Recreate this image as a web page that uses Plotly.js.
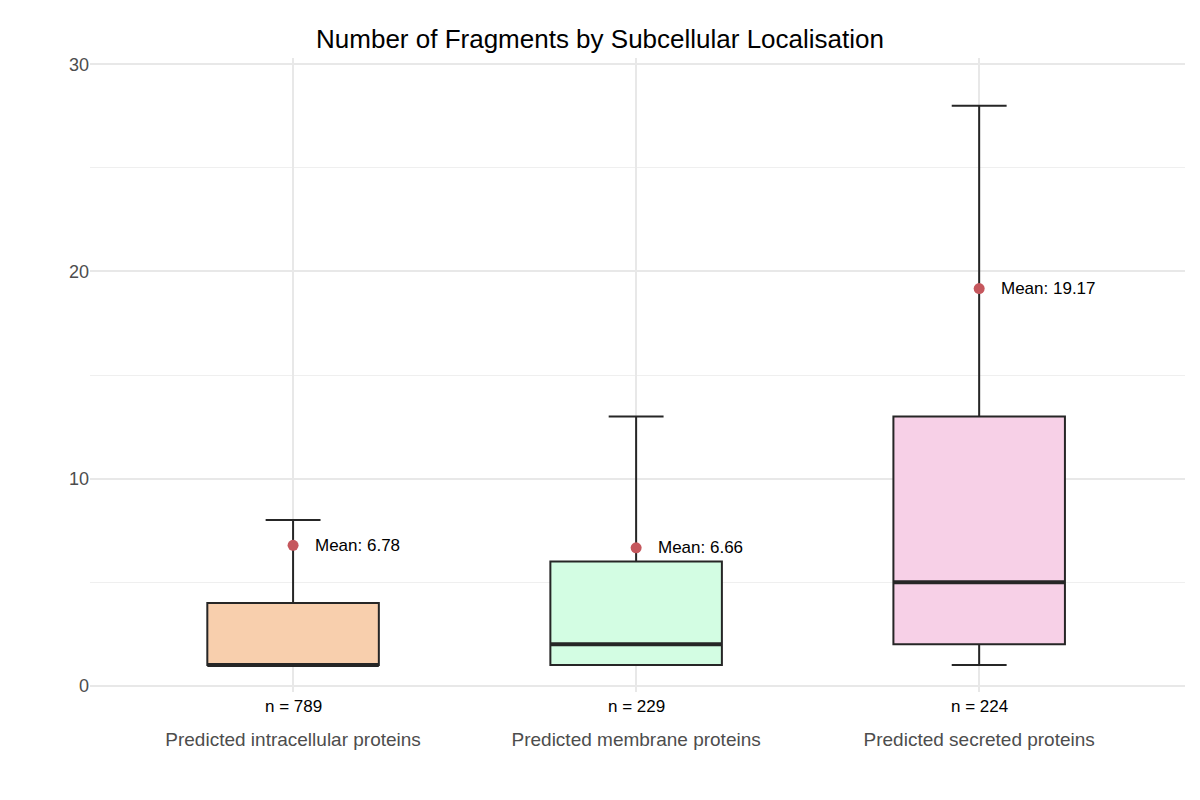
<!DOCTYPE html><html><head><script src="https://cdn.plot.ly/plotly-3.0.1.min.js"></script></head><body style="margin:0"><div id="g" style="width:1200px;height:800px"></div><script>
const categories=["Predicted intracellular proteins","Predicted membrane proteins","Predicted secreted proteins"];
const q1=[1,1,2], med=[1,2,5], q3=[4,6,13], lowW=[1,1,1], upW=[8,13,28];
const means=[6.78,6.66,19.17];
const counts=[789,229,224];
const fills=["#f8cfad","#d3fde3","#f7d0e7"];
const xs=[0,1,2];
const traces=[];
xs.forEach((x,i)=>{
 traces.push({type:"box",x:[x],q1:[q1[i]],median:[med[i]],q3:[q3[i]],lowerfence:[lowW[i]],upperfence:[upW[i]],
  width:0.5,fillcolor:fills[i],line:{color:"#262626",width:2},whiskerwidth:0.32,hoverinfo:"skip",showlegend:false});
 traces.push({type:"scatter",mode:"lines",x:[x-0.25,x+0.25],y:[med[i],med[i]],line:{color:"#262626",width:4},showlegend:false,hoverinfo:"skip"});
});
traces.push({type:"scatter",mode:"markers",x:xs,y:means,marker:{color:"#c5575d",size:11},showlegend:false});
const ann=xs.map((x,i)=>({x:x,y:means[i],text:"Mean: "+means[i].toFixed(2),xanchor:"left",xshift:20,showarrow:false,font:{size:17,color:"#000"}}))
 .concat(xs.map((x,i)=>({x:x,y:0,yref:"paper",text:"n = "+counts[i],yanchor:"top",yshift:-3,showarrow:false,font:{size:17,color:"#000"}})));
Plotly.newPlot("g",traces,{width:1200,height:800,paper_bgcolor:"#fff",plot_bgcolor:"#fff",
 font:{family:"Liberation Sans, Arial, sans-serif"},
 title:{text:"Number of Fragments by Subcellular Localisation",x:0.5,xanchor:"center",y:0.963,font:{size:26,color:"#000"}},
 margin:{l:90,r:15,t:58,b:108},
 xaxis:{range:[-0.592,2.60],tickvals:xs,ticktext:categories,showgrid:true,gridcolor:"#e8e8e8",gridwidth:2,zeroline:false,ticks:"",ticklabelstandoff:34,tickfont:{size:19,color:"#4d4d4d"}},
 yaxis:{range:[-0.3,30.3],tickvals:[0,10,20,30],showgrid:true,gridcolor:"#e8e8e8",gridwidth:2,zeroline:false,ticks:"",tickfont:{size:18,color:"#4d4d4d"},
  minor:{tickvals:[5,15,25],showgrid:true,gridcolor:"#efefef",gridwidth:1}},
 annotations:ann},{displayModeBar:false});
</script></body></html>
